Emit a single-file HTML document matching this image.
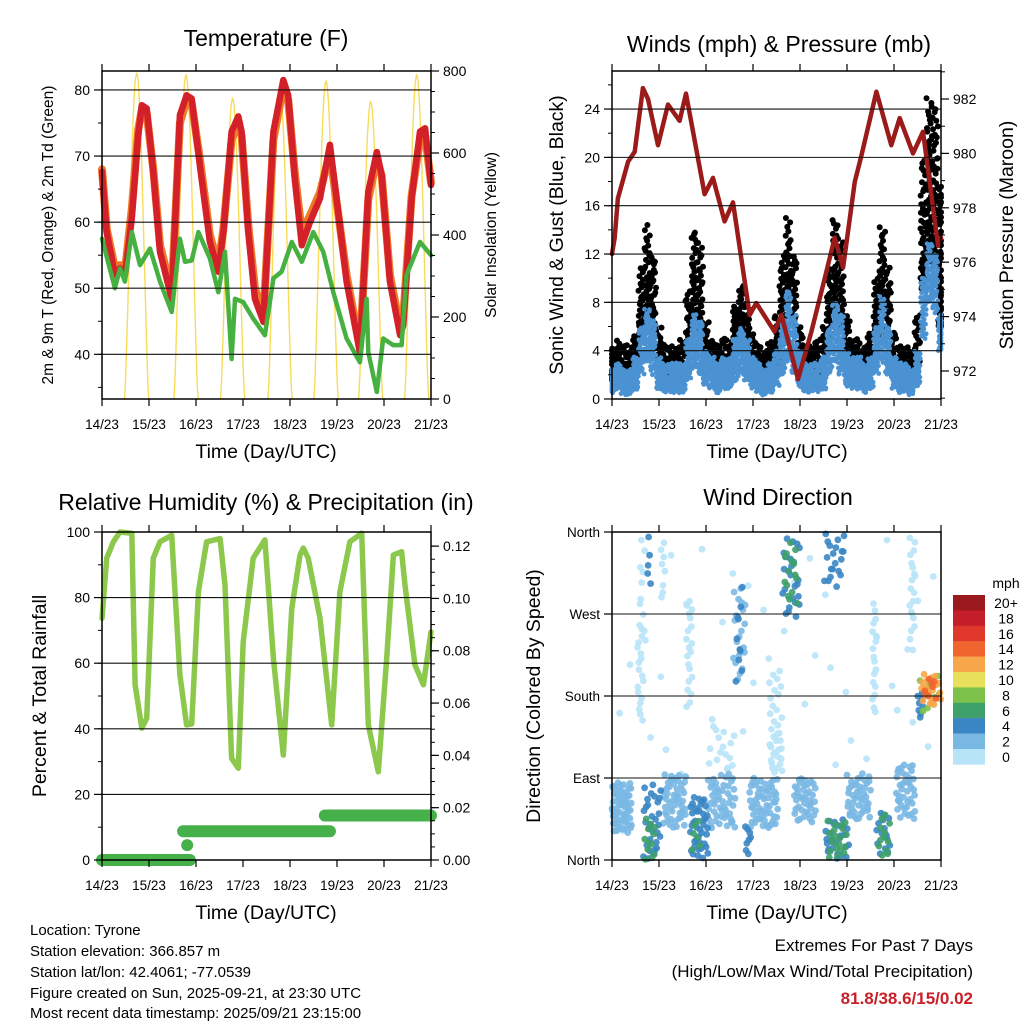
<!DOCTYPE html>
<html><head><meta charset="utf-8"><style>
html,body{margin:0;padding:0;background:#fff;}
svg{display:block;font-family:"Liberation Sans",Arial,sans-serif;}
</style></head><body>
<svg id="chart" xmlns="http://www.w3.org/2000/svg" width="1024" height="1024" viewBox="0 0 1024 1024">
<rect x="0" y="0" width="1024" height="1024" fill="#fff"/>
<g id="marks"></g>
<g id="axes"></g>
<g font-size="23" text-anchor="middle" fill="#000">
<text x="266" y="46">Temperature (F)</text>
<text x="779" y="52">Winds (mph) &amp; Pressure (mb)</text>
<text x="266" y="510">Relative Humidity (%) &amp; Precipitation (in)</text>
<text x="778" y="505">Wind Direction</text>
</g>
<g font-size="19.5" text-anchor="middle" fill="#000">
<text x="266" y="458">Time (Day/UTC)</text>
<text x="777" y="458">Time (Day/UTC)</text>
<text x="266" y="919">Time (Day/UTC)</text>
<text x="777" y="919">Time (Day/UTC)</text>
<text transform="translate(563,235) rotate(-90)">Sonic Wind &amp; Gust (Blue, Black)</text>
<text transform="translate(1013,235) rotate(-90)">Station Pressure (Maroon)</text>
<text transform="translate(46,696) rotate(-90)">Percent &amp; Total Rainfall</text>
<text transform="translate(540,696) rotate(-90)">Direction (Colored By Speed)</text>
</g>
<g font-size="15.5" text-anchor="middle" fill="#000">
<text transform="translate(53,235) rotate(-90)">2m &amp; 9m T (Red, Orange) &amp; 2m Td (Green)</text>
<text transform="translate(496,235) rotate(-90)">Solar Insolation (Yellow)</text>
</g>
<g font-size="15" fill="#000">
<text x="30" y="935">Location: Tyrone</text>
<text x="30" y="956">Station elevation: 366.857 m</text>
<text x="30" y="977">Station lat/lon: 42.4061; -77.0539</text>
<text x="30" y="998">Figure created on Sun, 2025-09-21, at 23:30 UTC</text>
<text x="30" y="1018">Most recent data timestamp: 2025/09/21 23:15:00</text>
</g>
<g font-size="17" text-anchor="end">
<text x="973" y="951" fill="#000">Extremes For Past 7 Days</text>
<text x="973" y="977" fill="#000">(High/Low/Max Wind/Total Precipitation)</text>
<text x="973" y="1004" fill="#c8202a" font-weight="bold">81.8/38.6/15/0.02</text>
</g>
<g id="cbar">
<text x="1006" y="588" font-size="14" text-anchor="middle">mph</text>
</g>
</svg>
<script>
// ---------- data ----------
const dayLabels = ["14/23","15/23","16/23","17/23","18/23","19/23","20/23","21/23"];
const tHours = [0,2.4,6.6,9.2,11.7,15.2,18.5,20.3,22.8,26.2,29.6,35.6,39.8,43.2,45.8,50,55.1,59.4,62,66.2,69.6,71.3,74.7,78.1,82.4,87.5,92.6,95.1,98.6,102,106.2,111.3,116.4,119.8,124.9,131.7,136,140.3,142.8,147,152.2,153.8,158.1,162.4,165,168];
const tRed = [67.6,58.5,52,53,52,60.6,73.2,77.7,77.2,67.6,55.5,48.4,76.2,79.2,78.7,68.6,57,52.5,58.5,73.7,76,73.7,58.5,48.4,44.9,73.7,81.5,79.2,66.1,56.5,60,63.6,71.7,63.6,51,40.3,64.6,70.6,67.1,51,42.9,44.4,63.6,73.7,74.2,65.6];
const tOrange = [68,59,53,53.5,52.5,62,74,77,76.5,68,56.5,49.5,75,78.5,78,69.5,58,53.5,59,72.5,75,73,59.5,50,46,72.5,80.5,78.5,67,58.5,61,64.5,70.5,63,52,41,63.5,69.5,67,52,44,45.5,64,72.5,73,66];
const dHours = [0,6.6,9.2,11.7,15.2,19.4,24.5,29.6,35.6,39.8,42.4,45.8,49.2,55.1,59.4,62.8,66.2,67.9,72.1,77.2,83.2,87.5,91.7,96.9,102,107.9,113,118.1,124.9,131.7,135.1,136,140.3,143.6,148.7,153,155.5,162.4,168];
const dVals = [57.5,50,53,51,58.5,53.5,56,51,46.4,57.5,54,54.2,58.5,54.5,49.4,55.5,39.3,48.4,47.9,45.4,42.9,51.5,52.5,57,54,58.5,55.5,49.4,42.4,38.8,48.4,40.3,34.3,42.4,41.4,41.4,52,57,55];
const solarPeakHour = [17.7,42.9,66.7,90.9,114.4,137.2,160.7];
const solarPeak = [794,790,733,750,775,725,790];

const pHours = [0,1.4,3,8.2,11.6,15.8,18.4,23.5,28.6,34.5,37.8,47.3,51.6,57.5,61.8,70.3,73.7,83,86.5,95,101.8,108.6,113.7,118,124,127.3,135,142.6,146.9,153.7,158.8,166.5,168];
const pVals = [976.3,976.9,978.35,979.7,980.06,982.4,982.0,980.3,981.8,981.2,982.2,978.5,979.1,977.5,978.2,974.06,974.5,973.45,974.06,971.7,973.45,975.4,976.9,975.8,978.96,979.9,982.27,980.3,981.3,980.0,980.8,976.6,976.9];
const windHi = [2.5,3,2.5,2.5,3.5,6,7.5,6.5,3.5,3,3,3,3,5,7,6.5,4,3.5,3,3.5,3.5,5,6,5,3.5,3,2.5,3,4,6.5,9,7,4,3,3,3,3.5,6,8,7,4,3.5,3.5,3,3.5,6,8.5,6,3.5,3,3,2.5,4,10,13,12,7];
const windLo = [0.5,0.8,0.3,0.3,0.8,2,3,2,0.8,0.5,0.5,0.5,0.5,1.5,2.5,2,1,0.8,0.5,0.8,0.8,1.5,2,1.5,0.8,0.5,0.3,0.5,1,2,3,2,1,0.5,0.5,0.5,0.8,2,3,2,1,0.8,0.8,0.5,0.8,2,3,2,0.8,0.5,0.5,0.3,1,5,8,7,4];
const gustMax = [4.5,5,4.5,4.5,5.5,11,14.5,12,6,4.5,4.5,4.5,5,9,14,13,6.5,5,4.5,5,5,8,9.5,8,5.5,4.5,4,5,7,12,15,12,6,4.5,4.5,5,6,11,15,13,7,5,5,4.5,5.5,10,14.5,11,5.5,4.5,4.5,4,7,20,25,24,18];

const rhHours = [0,2.4,5.8,9.2,15.2,16.9,20.3,22.8,26.2,29.6,35.6,39.8,43.2,45.8,49.2,53.4,60.3,62.8,66.2,69.6,72.1,77.2,83.2,87.5,92.6,96.9,101.1,102.8,105.3,111.3,117.3,121.5,126.6,132.6,136,141.1,145.4,148.8,153,154.7,159.8,164.1,168];
const rhVals = [73.7,92,97,100,99.6,53.4,40.2,43.2,92,97,99,56.4,41.2,41.5,81.8,97,98,83.8,31,28,66.5,92,97.6,61.5,32,76.7,93,95.1,92,73.7,41.2,81.8,97,99.6,41.2,26.9,61.5,93,94,83.8,59.5,53.4,69.5];
const precipStart = [0,41.4,113.8];
const precipEnd = [44.9,116.4,168];
const precipVal = [0,0.011,0.017];
const precipDotHour = [43.5];
const precipDotVal = [0.0057];

// wind direction clusters
const dirHourLo = [0,0,13,14,16,16,18,25,26,38,40,41,49,49,62,63,68,70,80,80,87,88,93,109,110,108,120,133,135,136,145,152,156,156,158,159,0];
const dirHourHi = [10,10,16,17,25,22,20,27,38,41,49,46,63,63,68,67,71,85,87,87,96,95,104,121,120,119,132,135,142,142,155,155,159,168,168,166,168];
const dirDegLo = [30,30,150,250,0,0,300,285,35,160,0,5,35,95,195,195,5,35,100,95,265,280,40,0,0,300,45,160,5,5,45,230,150,160,170,175,90];
const dirDegHi = [85,85,260,355,85,50,360,355,95,285,70,45,95,150,300,300,40,90,215,140,355,350,90,45,45,358,95,285,55,50,105,355,185,205,205,200,360];
const dirSpeed = [2.5,0.5,1.5,0.5,4.5,6.5,4.5,0.5,2.5,1.5,4.5,6.5,2.5,0.5,2.5,4.5,4.5,2.5,1.5,0.5,4.5,6.5,2.5,4.5,6.5,4.5,2.5,1.5,4.5,6.5,2.5,0.5,4.5,8.5,12.5,14.5,0.5];
const dirCount = [60,20,18,8,30,12,5,8,50,20,40,6,50,15,20,10,8,60,25,12,25,15,40,25,20,20,45,18,15,12,40,20,8,10,20,8,40];

const cbLabels = ["20+","18","16","14","12","10","8","6","4","2","0"];
const cbColors = ["#9b1a1e","#c41e2a","#e0372b","#f0642d","#f8a64a","#e8e05a","#7cc24a","#3ea06a","#3a86c4","#7ab8e4","#b8e4f8"];

// ---------- helpers ----------
const NS = "http://www.w3.org/2000/svg";
const marks = document.getElementById("marks");
const axes = document.getElementById("axes");
function mk(parent, tag, attrs){const e=document.createElementNS(NS,tag);for(const k in attrs)e.setAttribute(k,attrs[k]);parent.appendChild(e);return e;}
function halton(i,b){let f=1,r=0;while(i>0){f/=b;r+=f*(i%b);i=Math.floor(i/b);}return r;}
const P1={x0:102,x1:431,y0:71,y1:399}, P2={x0:612,x1:941,y0:71,y1:399}, P3={x0:102,x1:431,y0:532,y1:860}, P4={x0:612,x1:941,y0:532,y1:860};
function xS(P,h){return P.x0+h/168*(P.x1-P.x0);}
function yS(P,v,lo,hi){return P.y1-(v-lo)/(hi-lo)*(P.y1-P.y0);}
function speedColor(s){let idx=10-Math.floor(s/2);if(idx<0)idx=0;if(idx>10)idx=10;return cbColors[idx];}
function pts(P,hs,vs,lo,hi){return hs.map((h,i)=>xS(P,h).toFixed(1)+","+yS(P,vs[i],lo,hi).toFixed(1)).join(" ");}

const T_LO=33.24,T_HI=82.87, S_LO=0,S_HI=800, W_LO=0,W_HI=27.15, PR_LO=970.97,PR_HI=983.03, RH_LO=0,RH_HI=100, PC_LO=0,PC_HI=0.1254, D_LO=0,D_HI=360;

// ---------- axes ----------
function drawAxes(P,name,left,right){
  left.grid.forEach(v=>{const y=yS(P,v,left.lo,left.hi);
    const g=mk(axes,"line",{x1:P.x0,x2:P.x1,y1:y,y2:y,stroke:"#111","stroke-width":1.1});
    
    });
  const fr=mk(axes,"rect",{x:P.x0,y:P.y0,width:P.x1-P.x0,height:P.y1-P.y0,fill:"none",stroke:"#000","stroke-width":1.5});
  
  
  dayLabels.forEach((lab,i)=>{const x=xS(P,i*24);
    const t1=mk(axes,"line",{x1:x,x2:x,y1:P.y1,y2:P.y1+7,stroke:"#000","stroke-width":1.2});
    
    
    const t2=mk(axes,"line",{x1:x,x2:x,y1:P.y0,y2:P.y0-7,stroke:"#000","stroke-width":1.2});
    
    
    const tx=mk(axes,"text",{x:x,y:P.y1+30,"font-size":13.5,"text-anchor":"middle"});tx.textContent=lab;
    
    });
  [left,right].forEach((ax,side)=>{ if(!ax) return;
    const x0 = side===0?P.x0:P.x1, dir = side===0?-1:1;
    ax.minor.forEach(v=>{const y=yS(P,v,ax.lo,ax.hi);
      const m=mk(axes,"line",{x1:x0,x2:x0+dir*4,y1:y,y2:y,stroke:"#000","stroke-width":1});
      
      });
    ax.major.forEach((v,i)=>{const y=yS(P,v,ax.lo,ax.hi);
      const m=mk(axes,"line",{x1:x0,x2:x0+dir*8,y1:y,y2:y,stroke:"#000","stroke-width":1.2});
      
      
      const t=mk(axes,"text",{x:x0+dir*12,y:y+5,"font-size":ax.fs||14,"text-anchor":side===0?"end":"start"});
      t.textContent=ax.labels[i];
      
      });
  });
}
function range(a,b,s){const r=[];for(let v=a;v<=b+1e-9;v+=s)r.push(+v.toFixed(4));return r;}
drawAxes(P1,"temperature",{lo:T_LO,hi:T_HI,major:[40,50,60,70,80],labels:["40","50","60","70","80"],minor:range(35,80,5),grid:[40,50,60,70,80]},
  {lo:S_LO,hi:S_HI,major:[0,200,400,600,800],labels:["0","200","400","600","800"],minor:range(0,800,50)});
drawAxes(P2,"winds",{lo:W_LO,hi:W_HI,major:[0,4,8,12,16,20,24],labels:["0","4","8","12","16","20","24"],minor:range(0,26,2),grid:[4,8,12,16,20,24]},
  {lo:PR_LO,hi:PR_HI,major:[972,974,976,978,980,982],labels:["972","974","976","978","980","982"],minor:range(971,983,1)});
drawAxes(P3,"humidity",{lo:RH_LO,hi:RH_HI,major:[0,20,40,60,80,100],labels:["0","20","40","60","80","100"],minor:range(0,100,10),grid:[20,40,60,80]},
  {lo:PC_LO,hi:PC_HI,major:[0,0.02,0.04,0.06,0.08,0.1,0.12],labels:["0.00","0.02","0.04","0.06","0.08","0.10","0.12"],minor:range(0,0.12,0.005)});
drawAxes(P4,"direction",{lo:D_LO,hi:D_HI,major:[0,90,180,270,360],labels:["North","East","South","West","North"],minor:[],grid:[90,180,270],fs:13.5},null);

// ---------- panel 1: temperature ----------
const sol=mk(marks,"g",{});


solarPeakHour.forEach((ph,i)=>{
  const a=[];for(let k=0;k<=40;k++){const h=ph-6.2+k*12.4/40;const v=solarPeak[i]*Math.pow(Math.sin(Math.PI*k/40),1.4);
    if(h>=0&&h<=168)a.push(xS(P1,h).toFixed(1)+","+yS(P1,v,S_LO,S_HI).toFixed(1));}
  const l=mk(sol,"polyline",{points:a.join(" "),fill:"none",stroke:"#f8dc58","stroke-width":1.4});
  
  
});
const lo=mk(marks,"polyline",{points:pts(P1,tHours,tOrange,T_LO,T_HI),fill:"none",stroke:"#f07a2a","stroke-width":8,"stroke-linejoin":"round","stroke-linecap":"round"});


const lr=mk(marks,"polyline",{points:pts(P1,tHours,tRed,T_LO,T_HI),fill:"none",stroke:"#d42028","stroke-width":6.5,"stroke-linejoin":"round","stroke-linecap":"round"});


const lg=mk(marks,"polyline",{points:pts(P1,dHours,dVals,T_LO,T_HI),fill:"none",stroke:"#46b040","stroke-width":4.5,"stroke-linejoin":"round","stroke-linecap":"round"});



// ---------- panel 2: winds ----------
const wHours = windHi.map((_,i)=>i*3);
const gd=mk(marks,"g",{fill:"#000"});


let n=1;
wHours.forEach((h,i)=>{
  const cnt = Math.round(14+ (gustMax[i]-windHi[i])*3.5);
  for(let k=0;k<cnt;k++,n++){
    const hh=Math.min(168,Math.max(0,h-1.5+3*halton(n,2)));
    const base=windHi[i]-1, v=base+(gustMax[i]-base)*Math.pow(halton(n,3),1.5);
    const c=mk(gd,"circle",{cx:xS(P2,hh).toFixed(1),cy:yS(P2,v,W_LO,W_HI).toFixed(1),r:3});
    
    
  }
});
const bd=mk(marks,"g",{fill:"#4a92d2"});


let q=1;
wHours.forEach((h,i)=>{
  const cnt = Math.round(22+(windHi[i]-windLo[i])*4);
  for(let k=0;k<cnt;k++,q++){
    const hh=Math.min(168,Math.max(0,h-1.5+3*halton(q,2)));
    const v=windLo[i]+(windHi[i]-windLo[i])*halton(q,5);
    const c=mk(bd,"circle",{cx:xS(P2,hh).toFixed(1),cy:yS(P2,v,W_LO,W_HI).toFixed(1),r:2.4});
    
    
  }
});
const pl=mk(marks,"polyline",{points:pts(P2,pHours,pVals,PR_LO,PR_HI),fill:"none",stroke:"#9b1b1b","stroke-width":4.5,"stroke-linejoin":"round","stroke-linecap":"round"});



// ---------- panel 3: humidity ----------
const rl=mk(marks,"polyline",{points:pts(P3,rhHours,rhVals,RH_LO,RH_HI),fill:"none",stroke:"#8cc84b","stroke-width":5.5,"stroke-linejoin":"round","stroke-linecap":"round"});


precipStart.forEach((s,i)=>{
  const y=yS(P3,precipVal[i],PC_LO,PC_HI);
  const l=mk(marks,"line",{x1:xS(P3,s),x2:xS(P3,precipEnd[i]),y1:y,y2:y,stroke:"#46b04a","stroke-width":12,"stroke-linecap":"round"});
  
  
});
precipDotHour.forEach((h,i)=>{
  const c=mk(marks,"circle",{cx:xS(P3,h),cy:yS(P3,precipDotVal[i],PC_LO,PC_HI),r:6,fill:"#46b04a"});
  
  
});

// ---------- panel 4: wind direction ----------
const order=dirSpeed.map((s,i)=>i).sort((a,b)=>dirSpeed[a]-dirSpeed[b]);
let m=1;
order.forEach(ci=>{
  const g=mk(marks,"g",{fill:speedColor(dirSpeed[ci]),"fill-opacity":0.9});
  
  
  for(let k=0;k<dirCount[ci];k++,m++){
    const h=dirHourLo[ci]+(dirHourHi[ci]-dirHourLo[ci])*halton(m,2);
    const d=dirDegLo[ci]+(dirDegHi[ci]-dirDegLo[ci])*halton(m,3);
    const c=mk(g,"circle",{cx:xS(P4,h).toFixed(1),cy:yS(P4,d,D_LO,D_HI).toFixed(1),r:3.4});
    
    
  }
});

// ---------- colorbar ----------
const cb=document.getElementById("cbar");
cbLabels.forEach((lab,i)=>{
  const y=595+i*15.4;
  const r=mk(cb,"rect",{x:953,y:y,width:32,height:15.6,fill:cbColors[i]});
  
  
  const t=mk(cb,"text",{x:1006,y:y+13,"font-size":14,"text-anchor":"middle"});t.textContent=lab;
  
  
});
</script>
</body></html>
